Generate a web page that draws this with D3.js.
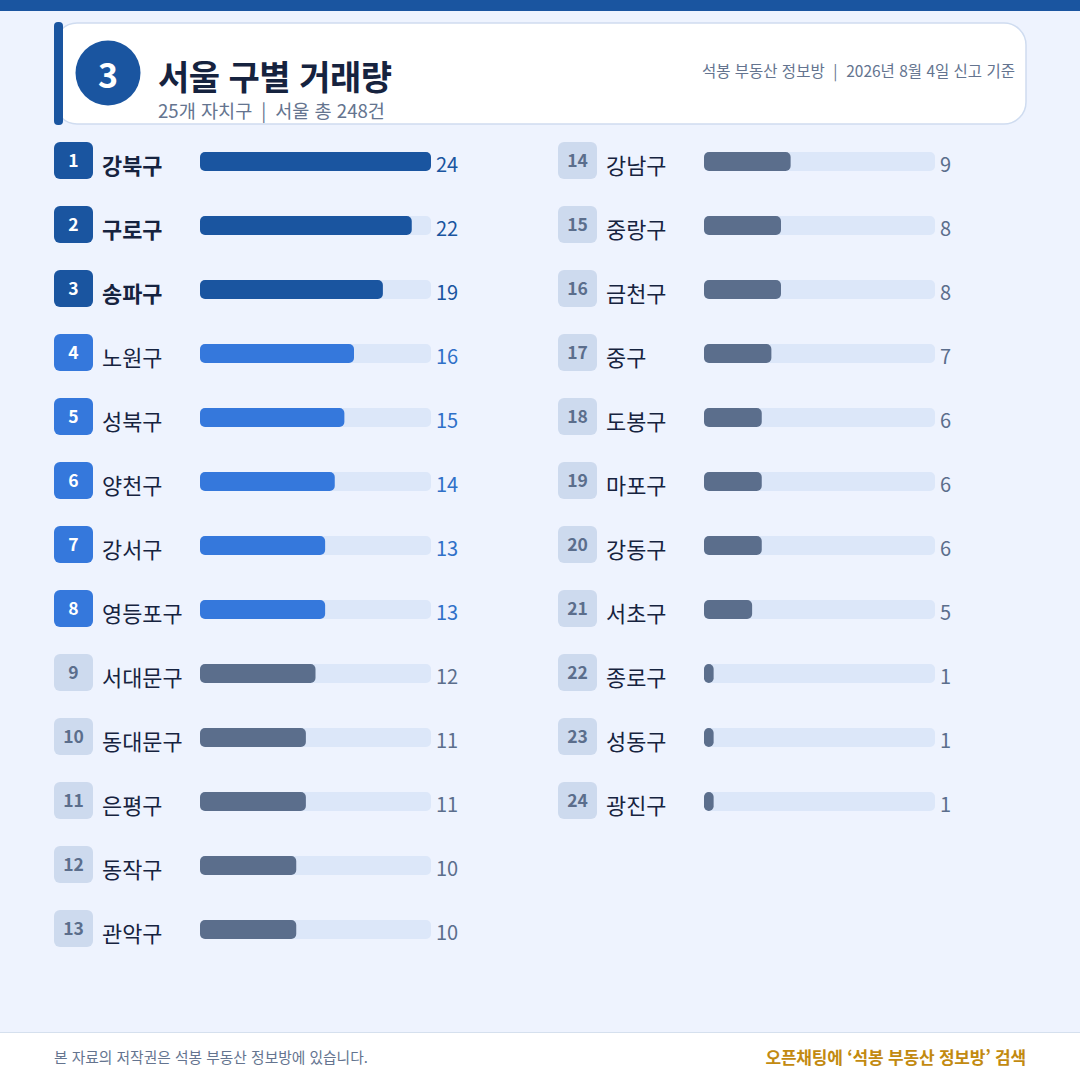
<!DOCTYPE html>
<html lang="ko">
<head>
<meta charset="utf-8">
<title>서울 구별 거래량</title>
<script src="https://cdn.jsdelivr.net/npm/d3@7"></script>
<style>
    html, body { margin: 0; padding: 0; background: #eef3fe; }
    svg { display: block; font-family: "Noto Sans CJK KR", sans-serif; }
</style>
</head>
<body>
<div id="chart"></div>
<script>
// --- data ---
const districts = ['강북구', '구로구', '송파구', '노원구', '성북구', '양천구', '강서구', '영등포구',
    '서대문구', '동대문구', '은평구', '동작구', '관악구', '강남구', '중랑구', '금천구', '중구',
    '도봉구', '마포구', '강동구', '서초구', '종로구', '성동구', '광진구'];
const counts = [24, 22, 19, 16, 15, 14, 13, 13, 12, 11, 11, 10, 10, 9, 8, 8, 7, 6, 6, 6, 5, 1, 1, 1];
const sectionNumber = '3';
const titleText = '서울 구별 거래량';
const subtitleText = '25개 자치구 \u2009|\u2009 서울 총 248건';
const sourceText = '석봉 부동산 정보방  |  2026년 8월 4일 신고 기준';
const copyrightText = '본 자료의 저작권은 석봉 부동산 정보방에 있습니다.';
const searchText = '오픈채팅에 ‘석봉 부동산 정보방’ 검색';

const width = 1080;
const height = 1080;
const perColumn = 13;
const rows = districts.map((name, i) => ({ name, count: counts[i], rank: i + 1 }));

// colour tier by rank
function barColor(rank) {
    if (rank <= 3) return '#1a55a0';
    if (rank <= 8) return '#3578dc';
    return '#5b6e8c';
}
function valueColor(rank) {
    if (rank <= 3) return '#1a55a0';
    if (rank <= 8) return '#2f70c8';
    return '#5b6e8c';
}

const svg = d3.select('#chart').append('svg')
    .attr('width', width)
    .attr('height', height)
    .attr('viewBox', `0 0 ${width} ${height}`);

svg.append('rect').attr('width', width).attr('height', height).attr('fill', '#eef3fe');
svg.append('rect').attr('width', width).attr('height', 11).attr('fill', '#1a55a0');

// --- header card ---
svg.append('rect')
    .attr('x', 55).attr('y', 23)
    .attr('width', 971).attr('height', 101)
    .attr('rx', 22)
    .attr('fill', '#ffffff')
    .attr('stroke', '#cfdcf0')
    .attr('stroke-width', 1.5);
svg.append('rect')
    .attr('x', 54).attr('y', 22)
    .attr('width', 9).attr('height', 103)
    .attr('rx', 4)
    .attr('fill', '#1a55a0');
svg.append('circle')
    .attr('cx', 108).attr('cy', 73).attr('r', 32.5)
    .attr('fill', '#1a55a0');
svg.append('text')
    .attr('x', 108).attr('y', 88)
    .attr('text-anchor', 'middle')
    .attr('font-size', 34).attr('font-weight', 700)
    .attr('fill', '#ffffff')
    .text(sectionNumber);
svg.append('text')
    .attr('x', 158).attr('y', 90)
    .attr('font-size', 34).attr('font-weight', 700)
    .attr('letter-spacing', -0.5)
    .attr('fill', '#16233f')
    .text(titleText);
svg.append('text')
    .attr('x', 158).attr('y', 118)
    .attr('font-size', 18.6)
    .attr('fill', '#64748f')
    .text(subtitleText);
svg.append('text')
    .attr('x', 1015).attr('y', 77)
    .attr('text-anchor', 'end')
    .attr('font-size', 15.5)
    .attr('fill', '#64748f')
    .attr('xml:space', 'preserve')
    .text(sourceText);

// --- ranking rows ---
const x = d3.scaleLinear().domain([0, d3.max(counts)]).range([0, 231]);
const rowY = d3.scaleLinear().domain([0, 1]).range([142, 206]);
const columnX = d3.scalePoint().domain([0, 1]).range([54, 558]);

const row = svg.selectAll('g.row')
    .data(rows)
    .join('g')
    .attr('class', 'row')
    .attr('transform', (d, i) => `translate(${columnX(i < perColumn ? 0 : 1)},${rowY(i % perColumn)})`);

row.append('rect')
    .attr('width', 39).attr('height', 37).attr('rx', 6)
    .attr('fill', d => d.rank <= 3 ? '#1a55a0' : d.rank <= 8 ? '#3578dc' : '#cddaee');
row.append('text')
    .attr('x', 19.5).attr('y', 25)
    .attr('text-anchor', 'middle')
    .attr('font-size', 17.5).attr('font-weight', 700)
    .attr('fill', d => d.rank <= 8 ? '#ffffff' : '#5b6e8c')
    .text(d => d.rank);
row.append('text')
    .attr('x', 48).attr('y', 32)
    .attr('font-size', 21.9)
    .attr('font-weight', d => d.rank <= 3 ? 700 : 400)
    .attr('fill', '#16233f')
    .text(d => d.name);
row.append('rect')
    .attr('x', 146).attr('y', 10)
    .attr('width', x.range()[1]).attr('height', 19).attr('rx', 5)
    .attr('fill', '#dce7f9');
row.append('rect')
    .attr('x', 146).attr('y', 10)
    .attr('width', d => x(d.count)).attr('height', 19)
    .attr('rx', d => Math.min(5, x(d.count) / 2))
    .attr('fill', d => barColor(d.rank));
row.append('text')
    .attr('x', 382).attr('y', 30)
    .attr('font-size', 20)
    .attr('fill', d => valueColor(d.rank))
    .text(d => d.count);

// --- footer ---
svg.append('rect').attr('y', 1032).attr('width', width).attr('height', 48).attr('fill', '#ffffff');
svg.append('rect').attr('y', 1032).attr('width', width).attr('height', 1).attr('fill', '#d5e0ee');
svg.append('text')
    .attr('x', 54).attr('y', 1063)
    .attr('font-size', 14.75)
    .attr('fill', '#64748f')
    .text(copyrightText);
svg.append('text')
    .attr('x', 1026).attr('y', 1064)
    .attr('text-anchor', 'end')
    .attr('font-size', 17).attr('font-weight', 700)
    .attr('letter-spacing', -0.2)
    .attr('fill', '#c28a10')
    .text(searchText);
</script>
</body>
</html>
